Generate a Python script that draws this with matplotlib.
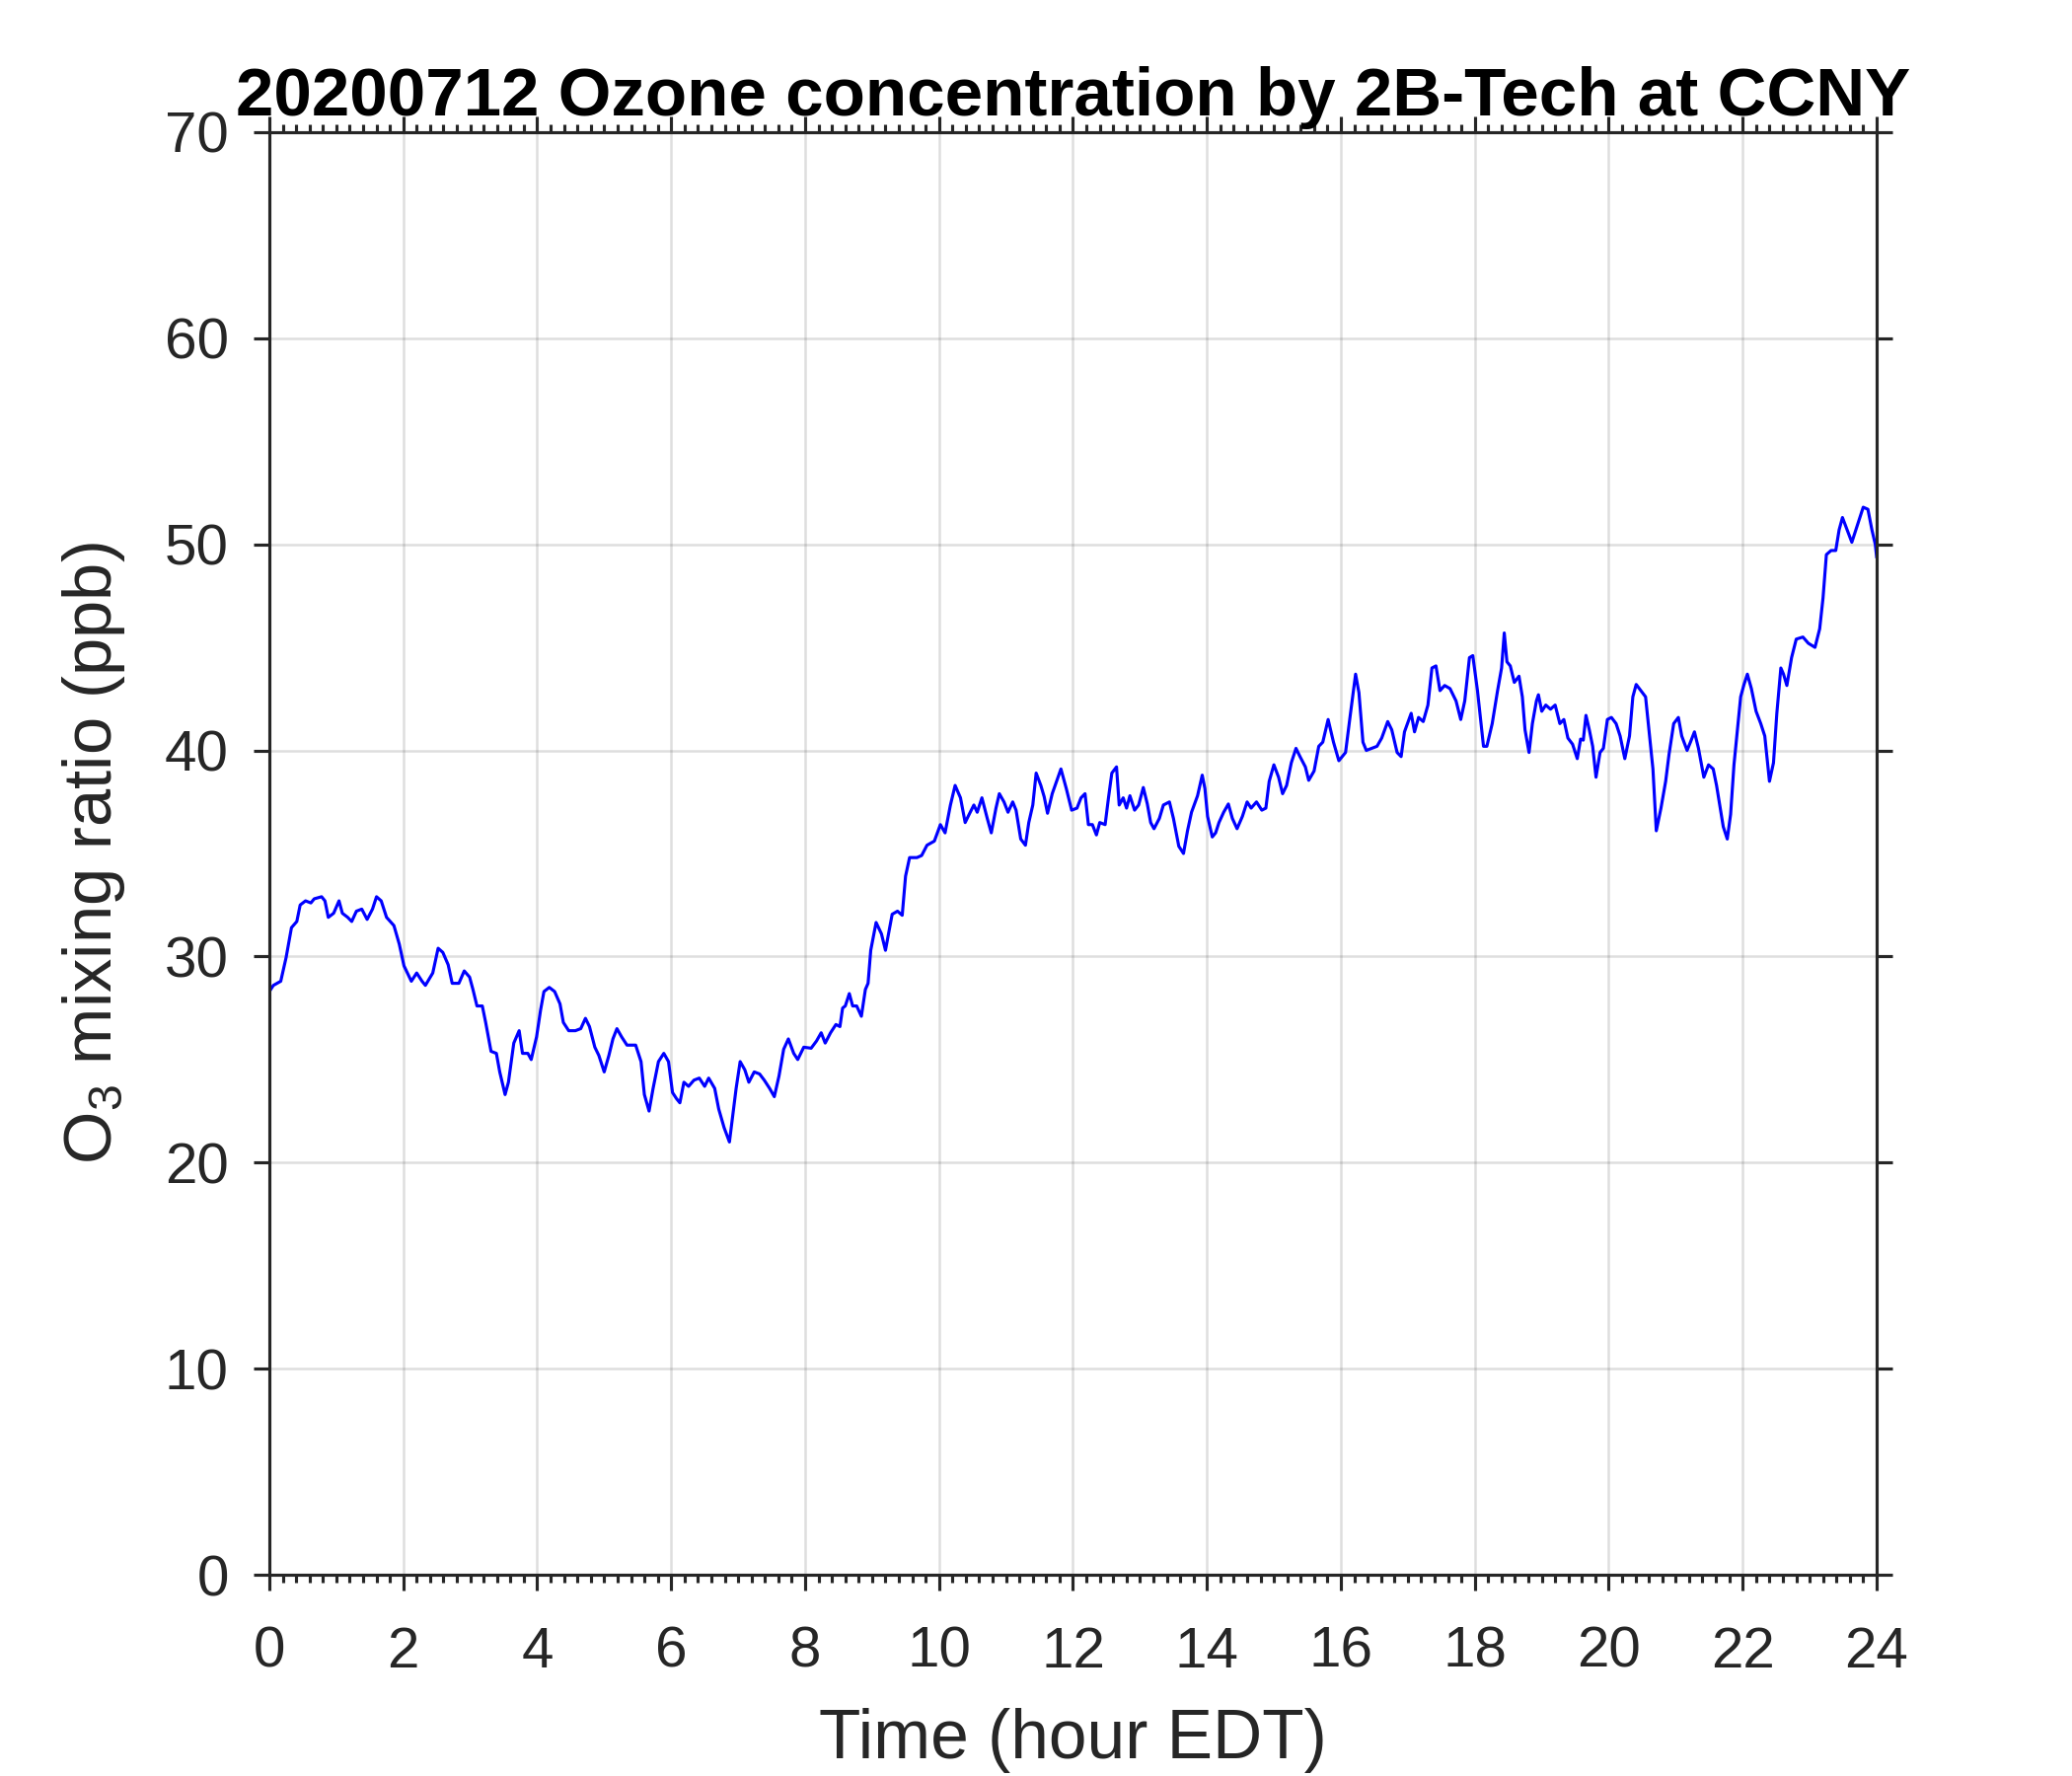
import matplotlib
matplotlib.use("Agg")
import matplotlib.pyplot as plt
from matplotlib.ticker import MultipleLocator

# Ozone trace (hour EDT, ppb)
hours = [
    0.00, 0.06, 0.17, 0.25, 0.33, 0.41, 0.46, 0.54, 0.62, 0.67, 0.78, 0.83, 0.88, 0.96,
    1.04, 1.09, 1.17, 1.23, 1.30, 1.38, 1.46, 1.54, 1.60, 1.67, 1.75, 1.86, 1.94,
    2.01, 2.12, 2.20, 2.28, 2.33, 2.44, 2.52, 2.59, 2.67, 2.73, 2.83, 2.91, 2.99,
    3.04, 3.10, 3.18, 3.23, 3.31, 3.39, 3.44, 3.52, 3.57, 3.65, 3.73, 3.78, 3.86, 3.91, 3.99,
    4.05, 4.10, 4.18, 4.26, 4.34, 4.39, 4.47, 4.57, 4.65, 4.72, 4.78, 4.86, 4.92,
    5.00, 5.07, 5.13, 5.19, 5.26, 5.34, 5.47, 5.55, 5.60, 5.67, 5.73, 5.81, 5.89, 5.96,
    6.02, 6.08, 6.13, 6.19, 6.26, 6.34, 6.42, 6.50, 6.56, 6.65, 6.71, 6.79, 6.87, 6.92, 6.97,
    7.03, 7.10, 7.16, 7.24, 7.32, 7.39, 7.47, 7.54, 7.61, 7.68, 7.75, 7.83, 7.89, 7.98,
    8.09, 8.17, 8.24, 8.30, 8.38, 8.46, 8.52, 8.56, 8.60, 8.66, 8.71, 8.77, 8.84, 8.90, 8.94, 8.98,
    9.06, 9.14, 9.20, 9.30, 9.38, 9.45, 9.50, 9.56, 9.67, 9.74, 9.82, 9.93,
    10.02, 10.09, 10.17, 10.24, 10.32, 10.39, 10.45, 10.52, 10.57, 10.64, 10.72, 10.78, 10.85, 10.90, 10.97,
    11.03, 11.10, 11.15, 11.22, 11.29, 11.34, 11.40, 11.45, 11.52, 11.57, 11.62, 11.69, 11.76, 11.82, 11.90, 11.98,
    12.06, 12.12, 12.18, 12.23, 12.29, 12.35, 12.40, 12.48, 12.53, 12.58, 12.65, 12.69, 12.75, 12.80, 12.85, 12.92, 12.98,
    13.05, 13.11, 13.16, 13.21, 13.29, 13.35, 13.44, 13.50, 13.58, 13.65, 13.71, 13.77, 13.86, 13.93, 13.97,
    14.01, 14.08, 14.13, 14.18, 14.25, 14.32, 14.38, 14.45, 14.53, 14.60, 14.66, 14.74, 14.82, 14.88, 14.93,
    15.00, 15.07, 15.13, 15.19, 15.26, 15.33, 15.39, 15.47, 15.52, 15.60, 15.67, 15.73, 15.81, 15.89, 15.97,
    16.07, 16.14, 16.22, 16.27, 16.33, 16.38, 16.46, 16.54, 16.61, 16.70, 16.76, 16.84, 16.90, 16.95,
    17.05, 17.10, 17.16, 17.23, 17.30, 17.36, 17.42, 17.48, 17.55, 17.63, 17.72, 17.79, 17.85, 17.92, 17.97,
    18.04, 18.13, 18.18, 18.26, 18.34, 18.40, 18.44, 18.48, 18.53, 18.59, 18.66, 18.71, 18.75, 18.81, 18.86, 18.92, 18.95,
    19.00, 19.06, 19.13, 19.20, 19.27, 19.33, 19.39, 19.46, 19.53, 19.58, 19.62, 19.66, 19.71, 19.76, 19.81, 19.87, 19.92, 19.98,
    20.04, 20.11, 20.17, 20.24, 20.31, 20.36, 20.41, 20.48, 20.55, 20.60, 20.66, 20.71, 20.78, 20.85, 20.90, 20.97,
    21.04, 21.09, 21.17, 21.22, 21.28, 21.34, 21.42, 21.49, 21.56, 21.61, 21.67, 21.71, 21.77, 21.82, 21.87, 21.93, 21.97,
    22.02, 22.07, 22.13, 22.20, 22.27, 22.33, 22.40, 22.46, 22.51, 22.57, 22.61, 22.66, 22.73, 22.80, 22.90, 22.98,
    23.08, 23.15, 23.20, 23.25, 23.32, 23.39, 23.44, 23.49, 23.56, 23.63, 23.71, 23.76, 23.80, 23.87, 23.93, 23.98, 24.00,
]
ozone = [
    28.3, 28.6, 28.8, 29.95, 31.4, 31.7, 32.5, 32.7, 32.6, 32.8, 32.9, 32.7, 31.9, 32.1,
    32.7, 32.1, 31.9, 31.7, 32.2, 32.3, 31.8, 32.3, 32.9, 32.7, 31.9, 31.5, 30.6,
    29.55, 28.8, 29.2, 28.8, 28.6, 29.2, 30.4, 30.2, 29.6, 28.7, 28.7, 29.3, 29.0,
    28.4, 27.6, 27.6, 26.8, 25.4, 25.3, 24.4, 23.3, 23.9, 25.8, 26.4, 25.3, 25.3, 25.0, 26.1,
    27.4, 28.3, 28.5, 28.3, 27.7, 26.8, 26.4, 26.4, 26.5, 27.0, 26.6, 25.6, 25.2,
    24.4, 25.2, 26.0, 26.5, 26.1, 25.7, 25.7, 24.9, 23.3, 22.5, 23.6, 24.9, 25.3, 24.9,
    23.4, 23.1, 22.9, 23.9, 23.7, 24.0, 24.1, 23.7, 24.1, 23.6, 22.6, 21.7, 21.0, 22.3, 23.6,
    24.9, 24.5, 23.9, 24.4, 24.3, 24.0, 23.6, 23.2, 24.2, 25.5, 26.0, 25.3, 25.0, 25.6,
    25.55, 25.9, 26.3, 25.8, 26.3, 26.7, 26.6, 27.5, 27.6, 28.2, 27.6, 27.6, 27.1, 28.4, 28.7, 30.3,
    31.65, 31.1, 30.3, 32.05, 32.2, 32.0, 33.9, 34.8, 34.8, 34.9, 35.4, 35.6,
    36.4, 36.0, 37.35, 38.3, 37.7, 36.5, 36.9, 37.35, 37.0, 37.7, 36.7, 36.0, 37.2, 37.9, 37.5,
    37.0, 37.5, 37.1, 35.7, 35.4, 36.5, 37.35, 38.9, 38.3, 37.75, 36.95, 37.9, 38.55, 39.1, 38.15, 37.1,
    37.2, 37.7, 37.9, 36.4, 36.4, 35.9, 36.5, 36.4, 37.7, 38.9, 39.2, 37.35, 37.7, 37.2, 37.8, 37.1, 37.35,
    38.2, 37.4, 36.5, 36.2, 36.7, 37.35, 37.5, 36.7, 35.35, 35.0, 36.1, 37.0, 37.8, 38.8, 38.15,
    36.8, 35.8, 36.0, 36.5, 37.0, 37.4, 36.7, 36.2, 36.8, 37.5, 37.2, 37.5, 37.1, 37.2, 38.5,
    39.3, 38.7, 37.9, 38.3, 39.4, 40.1, 39.7, 39.2, 38.55, 39.0, 40.2, 40.4, 41.5, 40.4, 39.5,
    39.9, 41.7, 43.7, 42.8, 40.4, 40.0, 40.1, 40.2, 40.6, 41.4, 41.0, 39.9, 39.7, 40.9,
    41.8, 40.9, 41.6, 41.4, 42.2, 44.0, 44.1, 42.9, 43.15, 43.0, 42.4, 41.5, 42.4, 44.5, 44.6,
    42.9, 40.2, 40.2, 41.3, 42.9, 44.0, 45.7, 44.3, 44.1, 43.3, 43.6, 42.6, 41.0, 39.9, 41.3, 42.4, 42.7,
    41.9, 42.2, 42.0, 42.2, 41.3, 41.5, 40.6, 40.3, 39.6, 40.55, 40.5, 41.7, 41.0, 40.2, 38.7, 39.9, 40.1, 41.5,
    41.6, 41.3, 40.7, 39.6, 40.7, 42.6, 43.2, 42.9, 42.6, 41.0, 39.1, 36.1, 37.2, 38.5, 39.8, 41.3,
    41.6, 40.7, 40.0, 40.4, 40.9, 40.1, 38.7, 39.3, 39.1, 38.3, 37.1, 36.3, 35.7, 36.9, 39.3, 41.3, 42.6,
    43.2, 43.7, 43.0, 41.9, 41.3, 40.7, 38.5, 39.4, 41.8, 44.0, 43.7, 43.15, 44.5, 45.4, 45.5, 45.2,
    45.0, 45.9, 47.4, 49.5, 49.7, 49.7, 50.7, 51.3, 50.7, 50.1, 50.9, 51.4, 51.8, 51.7, 50.7, 50.0, 49.4,
]

x_ticks = list(range(0, 25, 2))
y_ticks = list(range(0, 71, 10))

ink = '#262626'
plt.rcParams['font.family'] = ['Liberation Sans', 'DejaVu Sans']
plt.rcParams['mathtext.fontset'] = 'custom'
plt.rcParams['mathtext.rm'] = 'Liberation Sans'

fig = plt.figure(figsize=(7, 6), dpi=300)
ax = fig.add_axes([0.130, 0.1133, 0.7757, 0.8123])

ax.plot(hours, ozone, color='#0000ff', lw=0.75)

ax.set_xlim(0, 24)
ax.set_ylim(0, 70)
ax.set_xticks(x_ticks)
ax.set_yticks(y_ticks)
ax.xaxis.set_minor_locator(MultipleLocator(0.2))
ax.grid(True, which='major', color=ink, alpha=0.15, lw=0.6)

for s in ax.spines.values():
    s.set_color(ink)
    s.set_linewidth(0.75)

ax.tick_params(which='both', direction='out', top=True, right=True,
               color=ink, labelcolor=ink, labelsize=14, width=0.75)
ax.tick_params(which='major', length=3.9)
ax.tick_params(which='minor', length=1.9)
ax.tick_params(axis='x', which='major', pad=8.5)
ax.tick_params(axis='y', which='major', pad=6)

ax.set_xlabel('Time (hour EDT)', fontsize=16.7, color=ink, labelpad=7)
ax.set_ylabel(r'O$_{\mathrm{3}}$ mixing ratio (ppb)', fontsize=16.5, color=ink, labelpad=9)
ax.set_title('20200712 Ozone concentration by 2B-Tech at CCNY',
             fontsize=16.6, fontweight='bold', color='black', pad=4)

fig.savefig('out.png', dpi=300)
